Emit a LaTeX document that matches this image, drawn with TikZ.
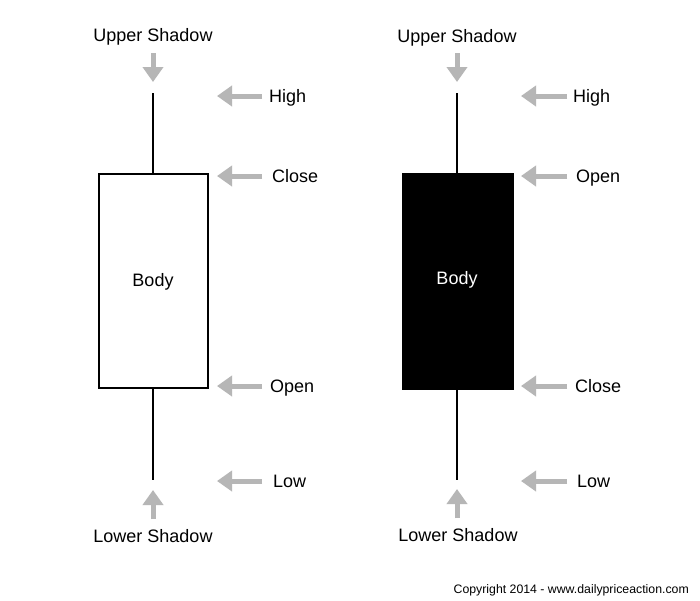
\documentclass[tikz,border=0pt]{standalone}
\usepackage{fontspec}
\setmainfont{Liberation Sans}
\usetikzlibrary{arrows.meta}
\definecolor{arrowgray}{RGB}{182,182,182}
\tikzset{
  lbl/.style={inner sep=0pt, anchor=base, font=\fontsize{18}{20}\selectfont},
  lbll/.style={lbl, anchor=base west},
  garrow/.style={draw=arrowgray, line width=5pt, -{Triangle[length=15pt,width=20pt]}, color=arrowgray},
  wick/.style={draw=black, line width=2pt},
  bodybox/.style={draw=black, line width=2pt, minimum width=109pt, minimum height=214pt, inner sep=0pt},
}
\begin{document}
\begin{tikzpicture}[x=1pt,y=-1pt]
\useasboundingbox[fill=white] (0,0) rectangle (700,600);

% ---------- left (white) candle ----------
\coordinate (LwT) at (153,93);
\coordinate (LwB) at (153,480);
\node[bodybox, fill=white] (Lbody) at (153.5,281) {};
\draw[wick] (LwT) -- (Lbody.north -| LwT);
\draw[wick] (Lbody.south -| LwB) -- (LwB);
\node[lbl] (Lbodytxt) at (153,286.5) {Body};

\node[lbl] (Lup) at (153,41.5) {Upper Shadow};
\coordinate (LupA) at (153,53);
\coordinate (LupB) at (153,82);
\draw[garrow] (LupA) -- (LupB);

\node[lbl] (Llow) at (153,542.5) {Lower Shadow};
\coordinate (LlowA) at (153,519);
\coordinate (LlowB) at (153,490);
\draw[garrow] (LlowA) -- (LlowB);

\foreach \n/\y/\t/\tx in {LH/96/High/269, LC/176/Close/272, LO/386/Open/270, LL/481/Low/273}{
  \coordinate (\n a) at (262,\y);
  \coordinate (\n b) at (217,\y);
  \draw[garrow] (\n a) -- (\n b);
  \node[lbll] (\n t) at (\tx,\y+6.5) {\t};
}

% ---------- right (black) candle ----------
\coordinate (RwT) at (457,93);
\coordinate (RwB) at (457,480);
\draw[wick] (RwT) -- (RwB);
\node[bodybox, fill=black, minimum width=110pt, minimum height=215pt] (Rbody) at (458,281.5) {};
\node[lbl, text=white] (Rbodytxt) at (457,284.5) {Body};

\node[lbl] (Rup) at (457,42.5) {Upper Shadow};
\coordinate (RupA) at (457,53);
\coordinate (RupB) at (457,82);
\draw[garrow] (RupA) -- (RupB);

\node[lbl] (Rlow) at (458,541.5) {Lower Shadow};
\coordinate (RlowA) at (457,518);
\coordinate (RlowB) at (457,489);
\draw[garrow] (RlowA) -- (RlowB);

\foreach \n/\y/\t/\tx in {RH/96/High/573, RO/176/Open/576, RC/386/Close/575, RL/481/Low/577}{
  \coordinate (\n a) at (567,\y);
  \coordinate (\n b) at (521,\y);
  \draw[garrow] (\n a) -- (\n b);
  \node[lbll] (\n t) at (\tx,\y+6.5) {\t};
}

% ---------- copyright ----------
\node[inner sep=0pt, anchor=base east, font=\fontsize{12.3}{14}\selectfont] (copy) at (689,593) {Copyright 2014 - www.dailypriceaction.com};
\end{tikzpicture}
\end{document}
